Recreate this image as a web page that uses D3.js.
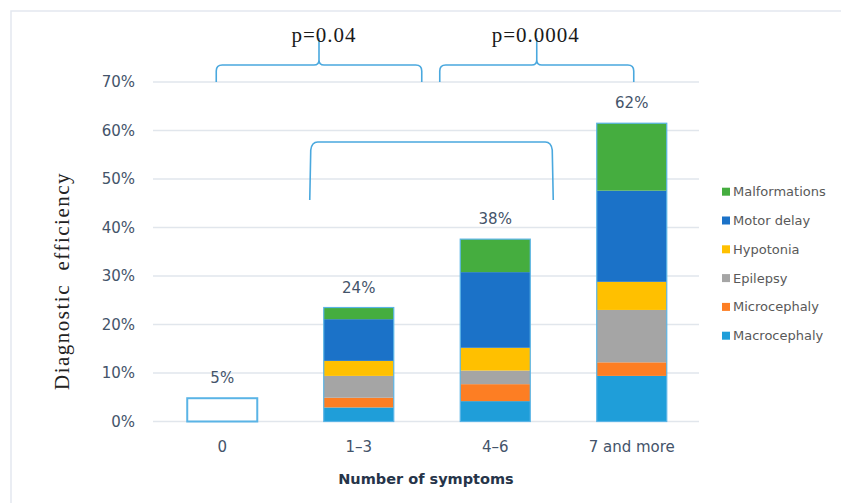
<!DOCTYPE html>
<html><head><meta charset="utf-8">
<script src="https://cdn.jsdelivr.net/npm/d3@7"></script>
<style>body{margin:0;background:#fff}svg{display:block}</style>
</head><body><svg id="c" width="841" height="503"></svg>
<script>
const categories = ["0", "1–3", "4–6", "7 and more"];
const seriesNames = ["Macrocephaly", "Microcephaly", "Epilepsy", "Hypotonia", "Motor delay", "Malformations"];
const macrocephaly = [0, 2.9, 4.2, 9.4];
const microcephaly = [0, 2.0, 3.5, 2.8];
const epilepsy = [0, 4.5, 2.8, 10.8];
const hypotonia = [0, 3.1, 4.7, 5.8];
const motorDelay = [0, 8.6, 15.6, 18.8];
const malformations = [0, 2.4, 6.8, 13.9];
const totals = [4.8, 23.5, 37.6, 61.5];
const totalLabels = ["5%", "24%", "38%", "62%"];
const yTicks = [0, 10, 20, 30, 40, 50, 60, 70];
const pLabels = ["p=0.04", "p=0.0004"];
const seriesColors = ["#1f9ed9", "#fd7e23", "#a5a5a5", "#ffc000", "#1b72c8", "#45ad3f"];

const seriesValues = [macrocephaly, microcephaly, epilepsy, hypotonia, motorDelay, malformations];
const rows = categories.map((c, i) => {
  const r = {cat: c};
  seriesNames.forEach((s, j) => r[s] = seriesValues[j][i]);
  return r;
});

const svg = d3.select("#c");
// outer frame
svg.append("rect").attr("x", 11).attr("y", 11).attr("width", 840).attr("height", 500)
  .attr("fill", "none").attr("stroke", "#e3e8ef").attr("stroke-width", 1.5);

const x = d3.scaleBand().domain(categories).range([154, 700]).paddingInner(0.487).paddingOuter(0.2435);
const y = d3.scaleLinear().domain([0, 70]).range([421.5, 82]);
const cx = c => x(c) + x.bandwidth() / 2;

// gridlines
svg.append("g").selectAll("line").data(yTicks).join("line")
  .attr("x1", 153).attr("x2", 699).attr("y1", d => y(d)).attr("y2", d => y(d))
  .attr("stroke", "#e1e6ec").attr("stroke-width", 1.5);

// y axis labels
const yAxis = d3.axisLeft(y).tickValues(yTicks).tickFormat(d => d + "%").tickSize(0).tickPadding(0);
const ya = svg.append("g").attr("transform", "translate(135,0)").call(yAxis);
ya.select(".domain").remove();
ya.selectAll("text").attr("font-family", "DejaVu Sans").attr("font-size", 15).attr("fill", "#44546a");

// x axis labels
const xAxis = d3.axisBottom(x).tickSize(0).tickPadding(0);
const xa = svg.append("g").attr("transform", "translate(0,441)").call(xAxis);
xa.select(".domain").remove();
xa.selectAll("text").attr("font-family", "DejaVu Sans").attr("font-size", 15).attr("fill", "#44546a");

// stacked bars
const stack = d3.stack().keys(seriesNames)(rows);
svg.append("g").selectAll("g").data(stack).join("g")
  .attr("fill", (d, i) => seriesColors[i])
  .selectAll("rect").data(d => d).join("rect")
  .attr("x", d => x(d.data.cat)).attr("width", x.bandwidth())
  .attr("y", d => y(d[1])).attr("height", d => y(d[0]) - y(d[1]));

// outline of each total bar
svg.append("g").selectAll("rect").data(categories).join("rect")
  .attr("x", c => x(c)).attr("width", x.bandwidth())
  .attr("y", (c, i) => y(totals[i])).attr("height", (c, i) => y(0) - y(totals[i]))
  .attr("fill", "none").attr("stroke", "#5ab4e6").attr("stroke-width", (c, i) => i === 0 ? 2 : 1.2);

// total labels
svg.append("g").selectAll("text").data(categories).join("text")
  .attr("x", c => cx(c)).attr("y", (c, i) => y(totals[i]) - 15)
  .attr("text-anchor", "middle").attr("font-family", "DejaVu Sans").attr("font-size", 15)
  .attr("fill", "#44546a").text((c, i) => totalLabels[i]);

// axis titles
svg.append("text").attr("x", 426).attr("y", 484).attr("text-anchor", "middle")
  .attr("font-family", "DejaVu Sans").attr("font-weight", "bold").attr("font-size", 14.5)
  .attr("fill", "#263449").text("Number of symptoms");
svg.append("text").attr("transform", "translate(69,281) rotate(-90)").attr("text-anchor", "middle")
  .attr("font-family", "Liberation Serif").attr("font-size", 21).attr("letter-spacing", 1.5)
  .attr("fill", "#222").style("white-space", "pre").text("Diagnostic  efficiency");

// braces
const braceColor = "#4aa8de";
function curly(l, r, m, yEnd, yLine, yTip) {
  return `M${l},${yEnd} L${l},${yLine + 6} Q${l},${yLine} ${l + 6},${yLine} L${m - 5},${yLine} Q${m},${yLine} ${m},${yLine - 5} L${m},${yTip} ` +
         `M${m},${yLine - 5} Q${m},${yLine} ${m + 5},${yLine} L${r - 6},${yLine} Q${r},${yLine} ${r},${yLine + 6} L${r},${yEnd}`;
}
const b1l = cx("0") - 6, b1r = cx("1–3") + 63, b1m = (b1l + b1r) / 2;
const b2l = cx("1–3") + 81, b2r = cx("7 and more") + 2, b2m = (b2l + b2r) / 2;
[[b1l, b1r, b1m], [b2l, b2r, b2m]].forEach(([l, r, m]) => {
  svg.append("path").attr("d", curly(l, r, m, y(70), 65, 38))
    .attr("fill", "none").attr("stroke", braceColor).attr("stroke-width", 1.6);
});
const lb = cx("1–3") - 49, rb = cx("4–6") + 58;
svg.append("path")
  .attr("d", `M${lb},200 L${lb + 1},150 Q${lb + 2},142 ${lb + 8},142 L${rb - 8},142 Q${rb - 2},142 ${rb - 1},150 L${rb},200`)
  .attr("fill", "none").attr("stroke", braceColor).attr("stroke-width", 1.6);

// p values
svg.append("g").selectAll("text").data(pLabels).join("text")
  .attr("x", (d, i) => i === 0 ? b1m + 5 : b2m - 1).attr("y", 42)
  .attr("text-anchor", "middle").attr("font-family", "Liberation Serif").attr("font-size", 21)
  .attr("letter-spacing", 1).attr("fill", "#1a1a1a").text(d => d);

// legend (top to bottom reversed order)
const legendOrder = seriesNames.map((s, i) => ({s, c: seriesColors[i]})).reverse();
const lg = svg.append("g").selectAll("g").data(legendOrder).join("g")
  .attr("transform", (d, i) => `translate(722,${191.7 + i * 28.8})`);
lg.append("rect").attr("x", 0).attr("y", -4).attr("width", 8).attr("height", 8).attr("fill", d => d.c);
lg.append("text").attr("x", 11).attr("y", 4.5).attr("font-family", "DejaVu Sans").attr("font-size", 13)
  .attr("fill", "#595959").text(d => d.s);
</script></body></html>
